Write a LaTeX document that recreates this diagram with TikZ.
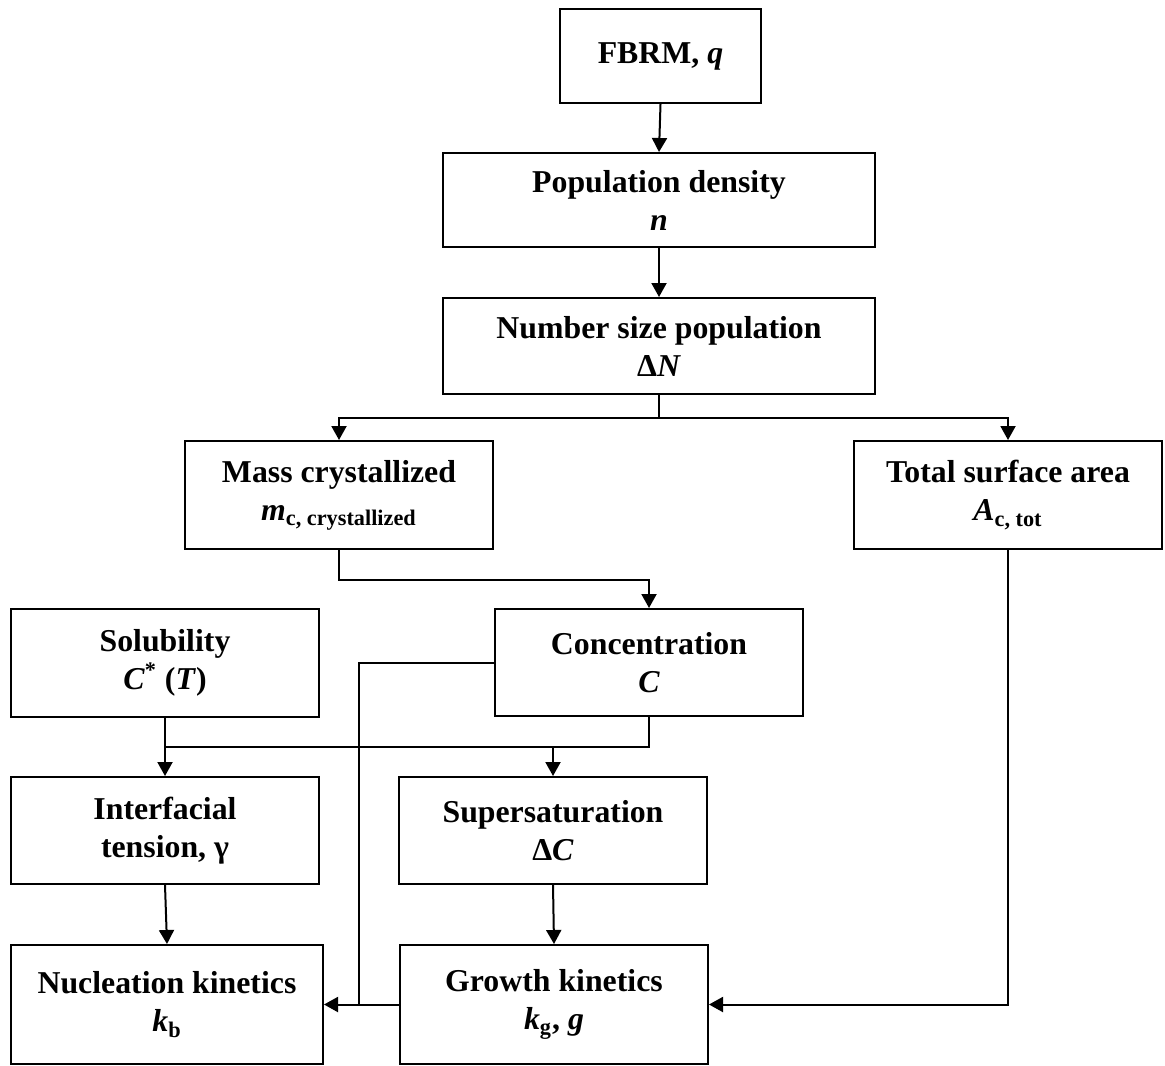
\documentclass[tikz,border=0pt]{standalone}
\usepackage{fontspec}
\setmainfont{Liberation Serif}
\usetikzlibrary{arrows.meta}

\begin{document}
\begin{tikzpicture}[x=0.5pt, y=-0.5pt, line width=1pt,
    box/.style={draw, align=center, inner sep=0pt,
      font=\fontsize{15.9}{19}\selectfont\bfseries},
    arr/.style={-{Triangle[width=7.5pt,length=7pt]}}]
  \useasboundingbox (0,0) rectangle (1165,1065);
  % measured chain
  \node[box, minimum width=100.5pt, minimum height=47pt] (fbrm) at (660.5,56)
    {FBRM, \textit{q}};
  \node[box, minimum width=216pt, minimum height=47pt] (pop) at (659,200)
    {Population density\\\textit{n}};
  \node[box, minimum width=216pt, minimum height=48pt] (num) at (659,346)
    {Number size population\\Δ\textit{N}};
  % derived quantities
  \node[box, minimum width=154pt, minimum height=54pt] (mass) at (339,495)
    {Mass crystallized\\\textit{m}\textsubscript{c, crystallized}};
  \node[box, minimum width=154pt, minimum height=54pt] (total) at (1008,495)
    {Total surface area\\\textit{A}\textsubscript{c, tot}};
  \node[box, minimum width=154pt, minimum height=54pt] (sol) at (165,663)
    {Solubility\\\textit{C}\textsuperscript{*} (\textit{T})};
  \node[box, minimum width=154pt, minimum height=53.5pt] (conc) at (649,662.5)
    {Concentration\\\textit{C}};
  \node[box, minimum width=154pt, minimum height=53.5pt] (inter) at (165,830.5)
    {Interfacial\\tension, γ};
  \node[box, minimum width=154pt, minimum height=53.5pt] (super) at (553,830.5)
    {Supersaturation\\Δ\textit{C}};
  % kinetics
  \node[box, minimum width=156pt, minimum height=59.5pt] (nucl) at (167,1004.5)
    {Nucleation kinetics\\\textit{k}\textsubscript{b}};
  \node[box, minimum width=154pt, minimum height=59.5pt] (growth) at (554,1004.5)
    {Growth kinetics\\\textit{k}\textsubscript{g}, \textit{g}};

  % straight links
  \foreach \a/\b in {fbrm/pop,pop/num,sol/inter,inter/nucl,super/growth} {
    \draw[arr] (\a.south) -- (\b.north);
  }
  % split below number size population
  \draw[arr] (num.south) -- ++(0,23) -| (mass.north);
  \draw[arr] (num.south) -- ++(0,23) -| (total.north);
  \draw[arr] (mass.south) -- ++(0,30) -| (conc.north);
  % solubility and concentration into supersaturation
  \coordinate (mix) at (553,747);
  \draw (conc.south) |- (mix) -| (sol.south);
  \draw[arr] (mix) -- (super.north);
  % feeds into the kinetics
  \coordinate (bend) at (359,1004.5);
  \draw[arr] (conc.west) -| (bend) -- (nucl.east);
  \draw (growth.west) -- (bend);
  \draw[arr] (total.south) |- (growth.east);
\end{tikzpicture}
\end{document}
